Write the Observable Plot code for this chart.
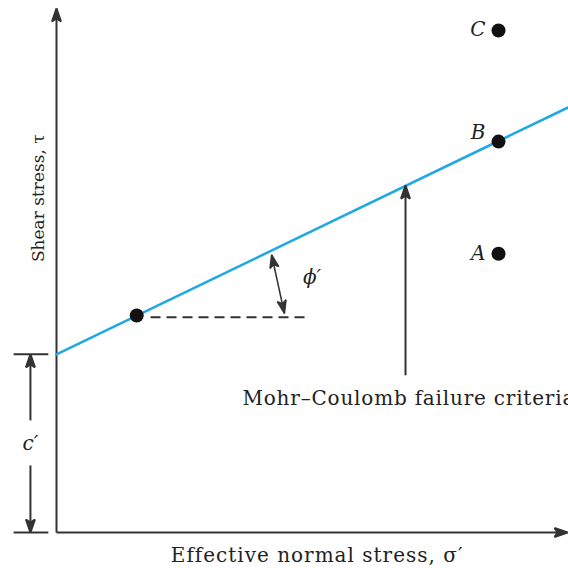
<!DOCTYPE html>
<html>
<head>
<meta charset="utf-8">
<script src="https://cdn.jsdelivr.net/npm/d3@7"></script>
<script src="https://cdn.jsdelivr.net/npm/@observablehq/plot@0.6"></script>
<style>
  html, body { margin: 0; padding: 0; background: #fff; overflow: hidden; }
  #chart svg { display: block; }
</style>
</head>
<body>
<div id="chart"></div>
<script>
// ---- data (abstract stress units) ----
const cohesion = 3.4;                  // c'
const envelopeSigma = [0, 10.2];       // failure envelope ends
const envelopeTau = [3.4, 8.2];
const stateLabels = ["A", "B", "C"];
const stateSigma = [8.65, 8.65, 8.65];
const stateTau = [5.32, 7.46, 9.58];
const stateLabelShift = [0, -9, -1];
const tangentSigma = [1.57];
const tangentTau = [4.14];
const axisMax = [10, 10];
const xLabel = "Effective normal stress, σ′";
const yLabel = "Shear stress, τ";
const envelopeLabel = "Mohr–Coulomb failure criteria";
const phiLabel = "ϕ′";
const cLabel = "c′";

const ink = "#333";
const blue = "#1ea8e6";
const serif = "DejaVu Serif, Liberation Serif, serif";

function filledArrow(color) {
  const m = d3.create("svg:marker")
    .attr("viewBox", "-14 -6 15 12")
    .attr("markerWidth", 15).attr("markerHeight", 12)
    .attr("markerUnits", "userSpaceOnUse")
    .attr("refX", 0).attr("refY", 0)
    .attr("orient", "auto-start-reverse");
  m.append("path").attr("fill", color).attr("d", "M0,0L-13,-4.5L-10,0L-13,4.5Z");
  return m.node();
}

const states = stateLabels.map((k, i) => ({k, s: stateSigma[i], t: stateTau[i], shift: stateLabelShift[i]}));
const envelope = envelopeSigma.map((s, i) => ({s, t: envelopeTau[i]}));

const stateText = states.map(d => Plot.text([d], {x: "s", y: "t", text: "k", dx: -13, dy: d.shift,
  textAnchor: "end", fontSize: 20, fontStyle: "italic", fill: "#222"}));

const chart = Plot.plot({
  width: 568,
  height: 568,
  style: {fontFamily: serif, background: "#fff", overflow: "hidden"},
  x: {domain: [0, axisMax[0]], range: [56, 567], axis: null},
  y: {domain: [0, axisMax[1]], range: [532, 8], axis: null},
  marks: [
    // axes
    Plot.link([0], {x1: 0, y1: 0, x2: axisMax[0], y2: 0, stroke: ink, strokeWidth: 2, markerEnd: filledArrow}),
    Plot.link([0], {x1: 0, y1: 0, x2: 0, y2: axisMax[1], stroke: ink, strokeWidth: 2, markerEnd: filledArrow}),
    // failure envelope
    Plot.line(envelope, {x: "s", y: "t", stroke: blue, strokeWidth: 2.5}),
    // horizontal reference from tangent point
    Plot.link([0], {x1: tangentSigma[0] + 0.27, y1: tangentTau[0] - 0.03, x2: 4.87, y2: tangentTau[0] - 0.03,
      stroke: ink, strokeWidth: 2, strokeDasharray: "10,6"}),
    // phi arrow
    Plot.link([0], {x1: 4.21, y1: 5.30, x2: 4.46, y2: 4.18, stroke: ink, strokeWidth: 1.5,
      markerStart: filledArrow, markerEnd: filledArrow}),
    Plot.text([phiLabel], {x: 5.0, y: 4.87, text: d => d, fontSize: 20, fontStyle: "italic", fill: "#222"}),
    // pointer to envelope
    Plot.link([0], {x1: 6.83, y1: 3.0, x2: 6.83, y2: 6.62, stroke: ink, strokeWidth: 2, markerEnd: filledArrow}),
    Plot.text([envelopeLabel], {x: 3.64, y: 2.56, text: d => d, textAnchor: "start", fontSize: 20, fill: "#222"}),
    // c' dimension
    Plot.link([cohesion, 0], {x1: -0.84, x2: -0.16, y1: d => d, y2: d => d, stroke: ink, strokeWidth: 2}),
    Plot.link([0], {x1: -0.51, y1: 2.14, x2: -0.51, y2: cohesion, stroke: ink, strokeWidth: 2, markerEnd: filledArrow}),
    Plot.link([0], {x1: -0.51, y1: 1.28, x2: -0.51, y2: 0, stroke: ink, strokeWidth: 2, markerEnd: filledArrow}),
    Plot.text([cLabel], {x: -0.51, y: 1.70, text: d => d, fontSize: 20, fontStyle: "italic", fill: "#222"}),
    // points
    Plot.dot([0], {x: tangentSigma[0], y: tangentTau[0], r: 7, fill: "#111"}),
    Plot.dot(states, {x: "s", y: "t", r: 7, fill: "#111"}),
    ...stateText,
    // axis labels
    Plot.text([xLabel], {x: 5.1, y: -0.44, text: d => d, fontSize: 20, fill: "#222"}),
    Plot.text([yLabel], {x: -0.36, y: 6.38, text: d => d, rotate: -90, fontSize: 17, fill: "#222"})
  ]
});
// widen letter spacing to match the reference's broad serif face
d3.select(chart).selectAll("text").each(function() {
  const t = this.textContent;
  if (t === envelopeLabel) this.setAttribute("letter-spacing", "0.8");
  if (t === xLabel) this.setAttribute("letter-spacing", "1.0");
});
document.getElementById("chart").append(chart);
</script>
</body>
</html>
